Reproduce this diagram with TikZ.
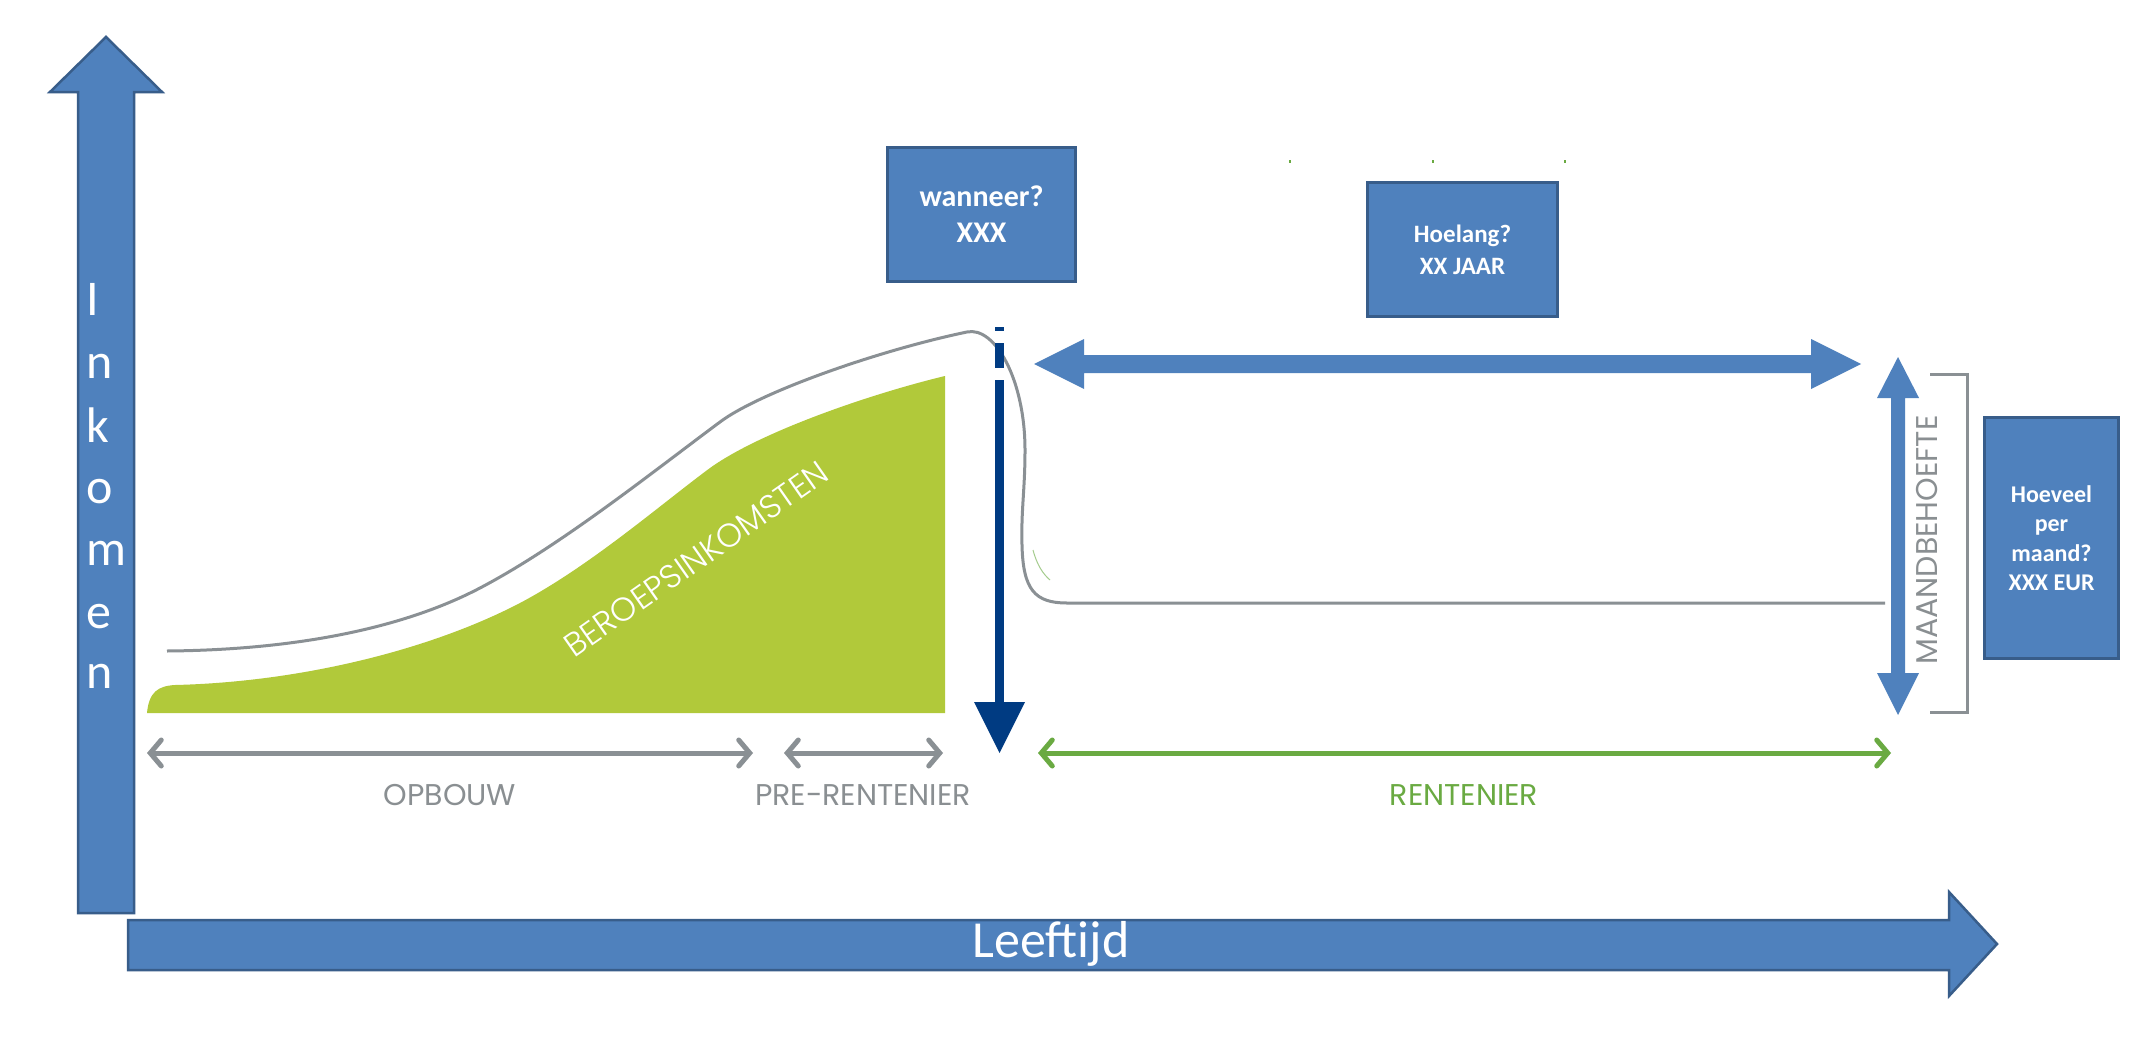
\documentclass[tikz,border=0pt]{standalone}
\usepackage{fontspec}
\setmainfont{Carlito}
\IfFontExistsTF{Poppins Light}{\newfontfamily\lightf{Poppins Light}}{\newfontfamily\lightf{Poppins}}
\newfontfamily\labelf{Poppins}
\usetikzlibrary{arrows.meta}
\definecolor{axblue}{RGB}{79,129,189}
\definecolor{axborder}{RGB}{56,93,138}
\definecolor{navy}{RGB}{0,59,130}
\definecolor{lime}{RGB}{177,201,58}
\definecolor{rgreen}{RGB}{106,170,66}
\definecolor{lgray}{RGB}{138,144,148}
\definecolor{tgray}{RGB}{138,143,146}
\tikzset{
  bigarrow/.style={fill=axblue, draw=axborder, line width=2.5pt, line join=miter},
  infobox/.style={fill=axblue, draw=axborder, line width=3pt, text=white, align=center, inner sep=0pt, font=\bfseries},
  phase/.style={line width=5pt, line cap=round, {Straight Barb[length=11pt,width=26pt,line cap=round]}-{Straight Barb[length=11pt,width=26pt,line cap=round]}},
  phaselabel/.style={font=\labelf\fontsize{30}{36}\selectfont, inner sep=0pt},
  curveline/.style={draw=lgray, line width=3pt}
}
\begin{document}
\begin{tikzpicture}[x=1pt,y=-1pt]
\useasboundingbox (0,0) rectangle (2136,1041);
\fill[white] (0,0) rectangle (2136,1041);

% vertical axis arrow
\draw[bigarrow] (78,913) -- (78,92) -- (50,92) -- (106,37) -- (162,92) -- (134,92) -- (134,913) -- cycle;
\foreach \ch/\yy [count=\i] in {I/315,n/378,k/442,o/503,m/565,e/628,n/688}
  \node[anchor=base west, text=white, inner sep=0pt, font=\fontsize{50}{60}\selectfont] (ink\i) at (86,\yy) {\ch};

% horizontal axis arrow
\draw[bigarrow] (128,920) -- (1949,920) -- (1949,892) -- (1997,944) -- (1949,996) -- (1949,970) -- (128,970) -- cycle;
\node[text=white, inner sep=0pt, font=\fontsize{52}{60}\selectfont] (leeftijd) at (1051,944) {Leeftijd};

% green income area
\fill[lime] (147,713) .. controls (149,692) and (158,686) .. (175,685)
  .. controls (300,682) and (430,650) .. (520,603)
  .. controls (590,566) and (660,505) .. (710,468)
  .. controls (760,432) and (870,394) .. (945,376)
  -- (945,713) -- cycle;
\node[text=white, rotate=35, inner sep=0pt, font=\lightf\fontsize{33}{38}\selectfont] (beroeps) at (696,559) {BEROEPSINKOMSTEN};

% grey income curve
\draw[curveline] (167,651) .. controls (290,650) and (400,630) .. (480,588)
  .. controls (560,546) and (650,474) .. (720,422)
  .. controls (760,392) and (880,350) .. (967,332)
  .. controls (995,326) and (1025,380) .. (1025,450)
  .. controls (1025,490) and (1021,510) .. (1022,545)
  .. controls (1023,590) and (1035,603) .. (1067,603)
  -- (1885,603);
\draw[rgreen!60, line width=1pt] (1033,550) .. controls (1037,565) and (1043,574) .. (1050,580);

% navy pension arrow
\fill[navy] (995,327) rectangle (1004,331);
\fill[navy] (995,343) rectangle (1004,368);
\fill[navy] (995,380) rectangle (1004,703);
\fill[navy] (974,702) -- (1025,702) -- (999.5,753) -- cycle;

% Hoelang double arrow
\fill[axblue] (1034,364) -- (1084,339) -- (1084,355) -- (1811,355) -- (1811,339) -- (1861,364) -- (1811,389) -- (1811,373) -- (1084,373) -- (1084,389) -- cycle;

% maandbehoefte double arrow
\fill[axblue] (1898,357) -- (1919,398) -- (1905,398) -- (1905,673) -- (1919,673) -- (1898,715) -- (1877,673) -- (1891,673) -- (1891,398) -- (1877,398) -- cycle;
\draw[lgray, line width=3pt] (1930,374) -- (1967,374) -- (1967,712) -- (1930,712);
\node[phaselabel, text=tgray, rotate=90] (maand) at (1927,540) {MAANDBEHOEFTE};

% phases
\coordinate (opA) at (147,753); \coordinate (opB) at (753,753);
\coordinate (prA) at (784,753); \coordinate (prB) at (943,753);
\coordinate (reA) at (1038,753); \coordinate (reB) at (1891,753);
\draw[phase, lgray] (opA) -- (opB);
\draw[phase, lgray] (prA) -- (prB);
\draw[phase, rgreen] (reA) -- (reB);
\node[phaselabel, text=tgray] (opbouw) at (450,795) {OPBOUW};
\node[phaselabel, text=tgray] (pre) at (863,795) {PRE-RENTENIER};
\node[phaselabel, text=rgreen] (rent) at (1464,795) {RENTENIER};

% info boxes
\node[infobox, minimum width=188, minimum height=134, font=\bfseries\fontsize{30}{36}\selectfont] (wanneer) at (981.5,214.5) {wanneer?\\XXX};
\node[infobox, minimum width=190, minimum height=134, font=\bfseries\fontsize{25}{32}\selectfont] (hoelang) at (1462.5,249.5) {Hoelang?\\XX JAAR};
\node[infobox, minimum width=134, minimum height=241, font=\bfseries\fontsize{24}{29.5}\selectfont] (hoeveel) at (2051.5,538) {Hoeveel\\per\\maand?\\XXX EUR};

% small green specks
\foreach \xx in {1289,1432,1564} \fill[rgreen] (\xx,160) rectangle ++(2,3);
\end{tikzpicture}
\end{document}
